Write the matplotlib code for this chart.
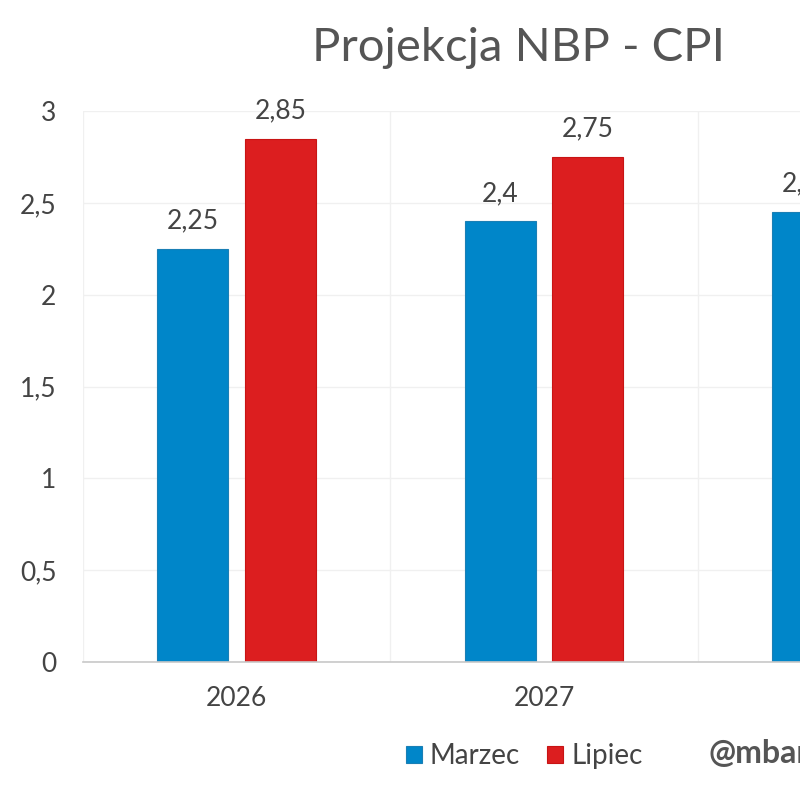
import matplotlib.pyplot as plt
import numpy as np

plt.rcParams['font.family'] = ['Lato', 'DejaVu Sans']

years = ['2026', '2027', '2028']
marzec = [2.25, 2.4, 2.45]
lipiec = [2.85, 2.75, 2.5]
yticks = [0, 0.5, 1, 1.5, 2, 2.5, 3]

blue = '#0086c9'
red = '#dc1e1f'
txt = '#444444'

fig = plt.figure(figsize=(8, 8), dpi=100)
# the original chart is wider than the picture, so the axes run past the right edge
ax = fig.add_axes([83 / 800, 138 / 800, 922 / 800, 551 / 800])

x = np.arange(len(years))
w = 0.231
b1 = ax.bar(x - 0.143, marzec, w, color=blue, edgecolor='#1a7fb5', linewidth=0.8, label='Marzec', zorder=3)
b2 = ax.bar(x + 0.143, lipiec, w, color=red, edgecolor='#c81414', linewidth=0.8, label='Lipiec', zorder=3)

for bars, vals in [(b1, marzec), (b2, lipiec)]:
    for r, v in zip(bars, vals):
        ax.annotate(f'{v:g}'.replace('.', ','), (r.get_x() + r.get_width() / 2, v),
                    xytext=(0, 20), textcoords='offset points', ha='center', va='center',
                    fontsize=19, color=txt)

ax.set_xlim(-0.5, len(years) - 0.5)
ax.set_ylim(0, 3)
ax.set_yticks(yticks)
ax.set_yticklabels([f'{t:g}'.replace('.', ',') for t in yticks])
ax.set_xticks(x)
ax.set_xticklabels(years)
ax.set_xticks(np.arange(len(years) + 1) - 0.5, minor=True)
ax.tick_params(axis='both', which='both', length=0, labelsize=19, labelcolor=txt)
ax.tick_params(axis='y', pad=19)
ax.tick_params(axis='x', pad=17)
ax.grid(axis='y', color='#f0f0f0', linewidth=1, zorder=0)
ax.grid(axis='x', which='minor', color='#f0f0f0', linewidth=1, zorder=0)
for s in ['top', 'right', 'left']:
    ax.spines[s].set_visible(False)
ax.spines['bottom'].set_color('#c8c8c8')
ax.spines['bottom'].set_linewidth(1.2)
ax.spines['bottom'].set_zorder(4)

fig.text(518 / 800, 1 - 48 / 800, 'Projekcja NBP - CPI', ha='center', va='center',
         fontsize=34, color='#555555')

fig.legend(handles=[b1, b2], loc='center', bbox_to_anchor=(524 / 800, 1 - 756 / 800),
           ncol=2, frameon=False, fontsize=20, labelcolor=txt,
           handlelength=0.58, handleheight=0.58, handletextpad=0.3, columnspacing=0.95)

fig.text(708 / 800, 1 - 754 / 800, '@mbank_research', ha='left', va='center',
         fontsize=23, fontweight='bold', color='#555555')

fig.savefig('out.png')
